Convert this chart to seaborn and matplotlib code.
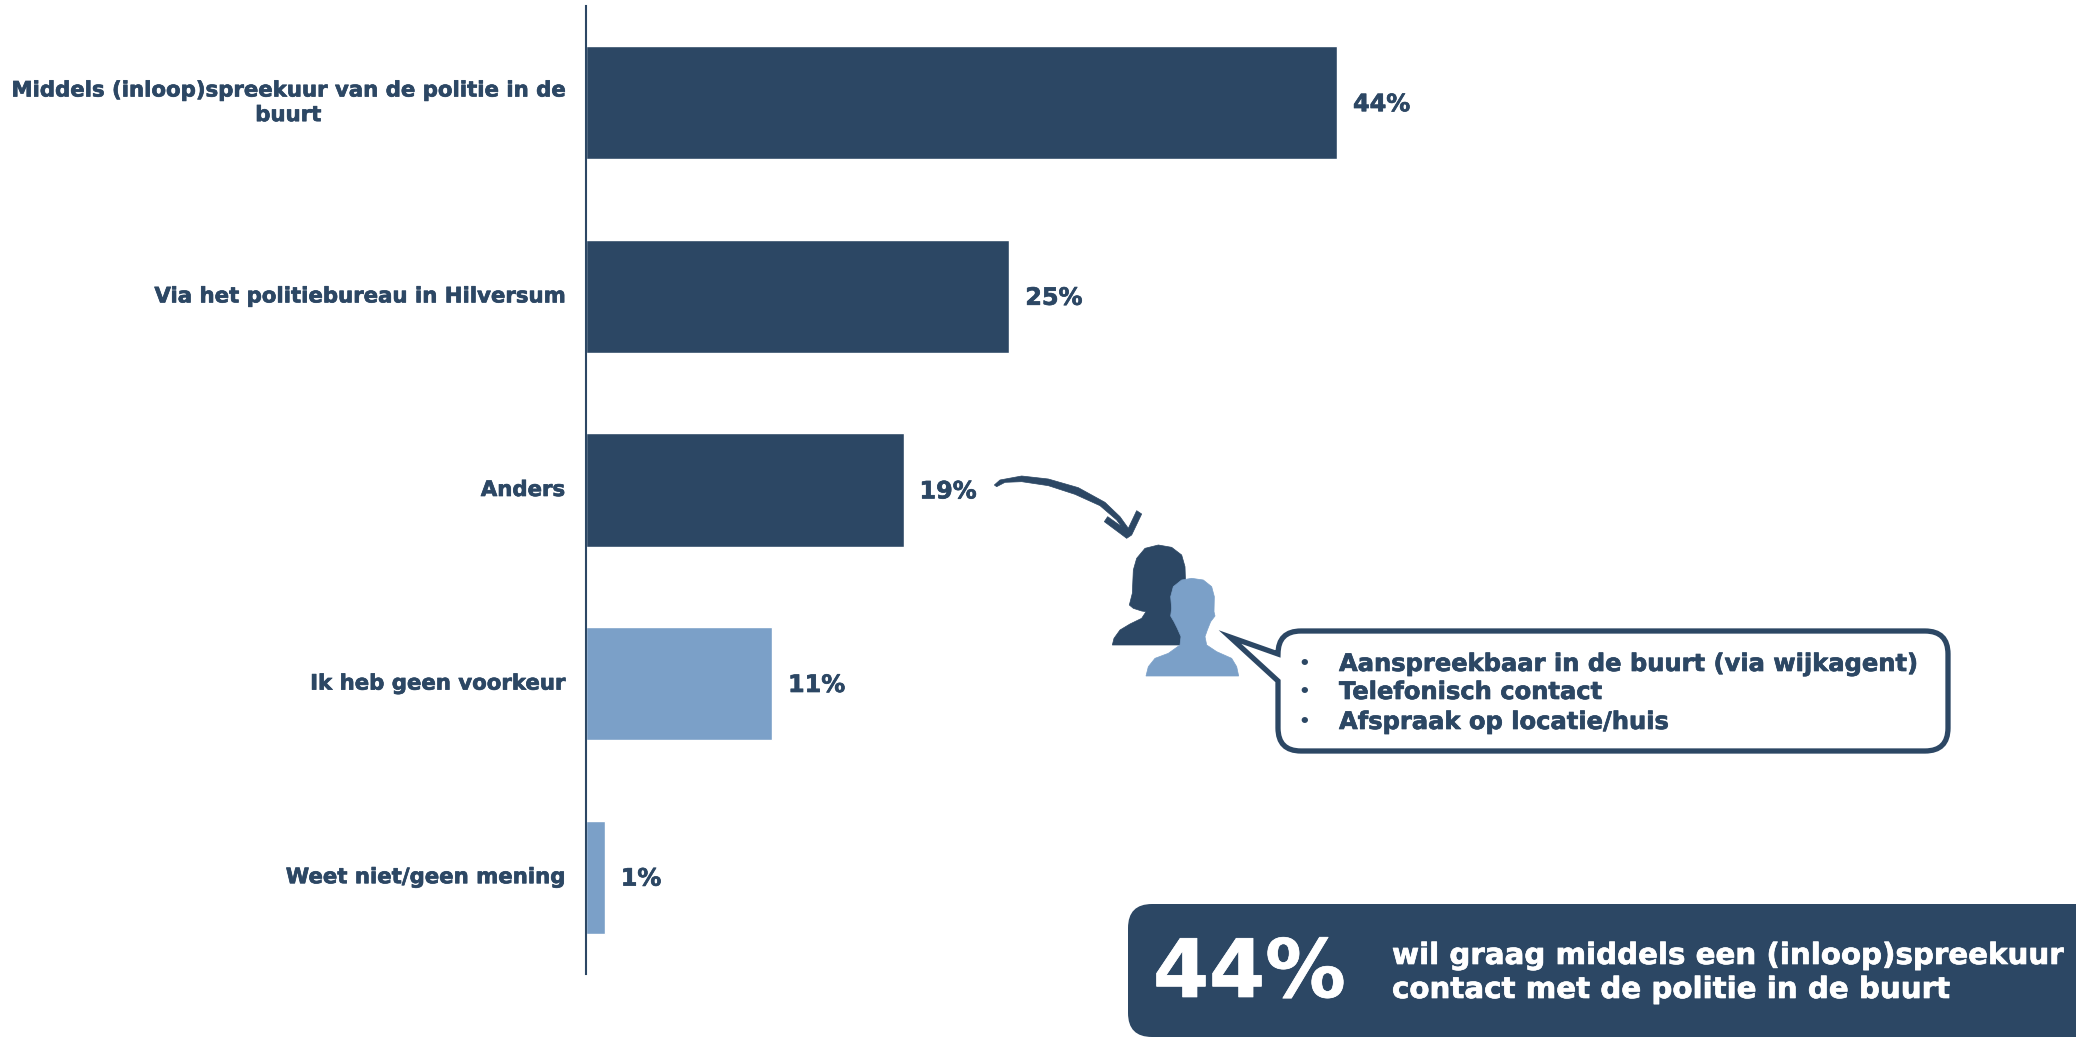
import pandas as pd
import numpy as np
import matplotlib.pyplot as plt
import matplotlib.patheffects as pe
import seaborn as sns
from matplotlib.patches import FancyBboxPatch, PathPatch, Polygon
from matplotlib.path import Path

# Values
antwoorden = ['Middels (inloop)spreekuur van de politie in de\nbuurt',
              'Via het politiebureau in Hilversum',
              'Anders',
              'Ik heb geen voorkeur',
              'Weet niet/geen mening']
waarden = [44.0, 24.8, 18.6, 10.9, 1.1]
groepen = ['keuze', 'keuze', 'keuze', 'geen', 'geen']
toelichting = ['Aanspreekbaar in de buurt (via wijkagent)', 'Telefonisch contact', 'Afspraak op locatie/huis']
conclusie = ['wil graag middels een (inloop)spreekuur', 'contact met de politie in de buurt']

DONKER = '#2C4764'
LICHT = '#7BA0C8'

sns.set_theme(style='white')
plt.rcParams['font.family'] = ['DejaVu Sans']
plt.rcParams['font.weight'] = 'bold'

df = pd.DataFrame({'antwoord': antwoorden, 'waarde': waarden, 'groep': groepen})

# slightly heavier letters, the original font is a wide bold
def zwaar(t, col=DONKER):
    t.set_path_effects([pe.withStroke(linewidth=0.5, foreground=col)])

W, H = 2076, 1037
fig = plt.figure(figsize=(W / 100, H / 100), dpi=100)
ax = fig.add_axes([586 / W, 1 - 974 / H, (W - 586) / W, (974 - 6) / H])

sns.barplot(data=df, x='waarde', y='antwoord', hue='groep', palette={'keuze': DONKER, 'geen': LICHT},
            dodge=False, width=0.585, legend=False, ax=ax, saturation=1)
ax.set_xlim(0, (W - 586) / 17.07)
ax.set_ylim(4.5, -0.5)
ax.set_xlabel('')
ax.set_ylabel('')
ax.set_xticks([])
sns.despine(ax=ax, top=True, right=True, bottom=True)
ax.spines['left'].set_color(DONKER)
ax.spines['left'].set_linewidth(1.5)
ax.tick_params(axis='y', length=0, pad=15)
for lab in ax.get_yticklabels():
    lab.set_fontsize(15.3)
    lab.set_color(DONKER)
    lab.set_fontweight('bold')
    lab.set_multialignment('center')
    lab.set_linespacing(1.29)
    lab.set_verticalalignment('center')
    zwaar(lab)
for c in ax.containers:
    for t in ax.bar_label(c, fmt='%.0f%%', padding=11.5, fontsize=17.2, color=DONKER, fontweight='bold'):
        t.xyann = (11.5, -1)
        zwaar(t)

# overlay in pixel coordinates for the callout, icons and banner
ov = fig.add_axes([0, 0, 1, 1], zorder=5)
ov.set_xlim(0, W)
ov.set_ylim(H, 0)
ov.axis('off')
ov.patch.set_alpha(0)

def vorm(pts, x0, y0, col, z):
    pts = np.array(pts, dtype=float) / 3.0
    ov.add_patch(Polygon(pts + [x0, y0], closed=True, fc=col, ec=col, lw=0.5, zorder=z))

vrouw = [(175, 45), (215, 52), (245, 75), (255, 110), (258, 200), (258, 345), (37, 345), (42, 325), (60, 300),
         (90, 282), (125, 265), (138, 245), (125, 243), (100, 235), (88, 225), (97, 190), (100, 120), (110, 85),
         (135, 55)]
man = [(275, 145), (310, 150), (335, 170), (343, 200), (342, 245), (345, 258), (332, 275), (322, 300), (315, 320),
       (320, 345), (350, 365), (395, 385), (410, 410), (416, 438), (138, 438), (145, 410), (165, 385), (205, 370),
       (240, 345), (243, 320), (232, 295), (222, 275), (212, 258), (215, 235), (212, 200), (220, 170), (245, 150)]
pijl = [(28, 60), (45, 45), (110, 33), (190, 42), (280, 68), (360, 112), (405, 155), (430, 190), (455, 137),
        (470, 147), (440, 210), (425, 220), (405, 205), (358, 170), (368, 155), (410, 185), (395, 165), (345, 122),
        (270, 88), (190, 62), (110, 50), (60, 52), (35, 65)]
vorm(vrouw, 1100, 530, DONKER, 2)
vorm(man, 1100, 530, LICHT, 3)
vorm(pijl, 985, 465, DONKER, 2)

# speech bubble with tail
x0, x1, y0, y1, r = 1278, 1948, 631, 751, 23
M, L, C = Path.MOVETO, Path.LINETO, Path.CURVE3
verts = [(x0 + r, y0), (x1 - r, y0), (x1, y0), (x1, y0 + r), (x1, y1 - r), (x1, y1), (x1 - r, y1), (x0 + r, y1),
         (x0, y1), (x0, y1 - r), (x0, 681), (1230, 637), (x0, 654), (x0, y0), (x0 + r, y0), (x0 + r, y0)]
codes = [M, L, C, C, L, C, C, L, C, C, L, L, L, C, C, Path.CLOSEPOLY]
ov.add_patch(PathPatch(Path(verts, codes), fc='white', ec=DONKER, lw=3.8, joinstyle='miter', zorder=4))
for y, t in zip([664, 692, 722], toelichting):
    ov.text(1304, y, '\u2022', fontsize=13, color=DONKER, ha='center', va='center', zorder=6)
    zwaar(ov.text(1339, y, t, fontsize=17.4, color=DONKER, ha='left', va='center', fontweight='bold', zorder=6))

# banner bottom right, runs off the page
ov.add_patch(FancyBboxPatch((1128, 904), W + 100 - 1128, 1037 - 904, boxstyle='round,pad=0,rounding_size=24',
                            fc=DONKER, ec='none', zorder=1))
zwaar(ov.text(1153, 975, '44%', fontsize=58, color='white', ha='left', va='center', fontweight='bold', zorder=6), 'white')
for y, t in zip([956, 990], conclusie):
    zwaar(ov.text(1392, y, t, fontsize=21.1, color='white', ha='left', va='center', fontweight='bold', zorder=6), 'white')

fig.savefig('out.png', dpi=100, facecolor='white')
